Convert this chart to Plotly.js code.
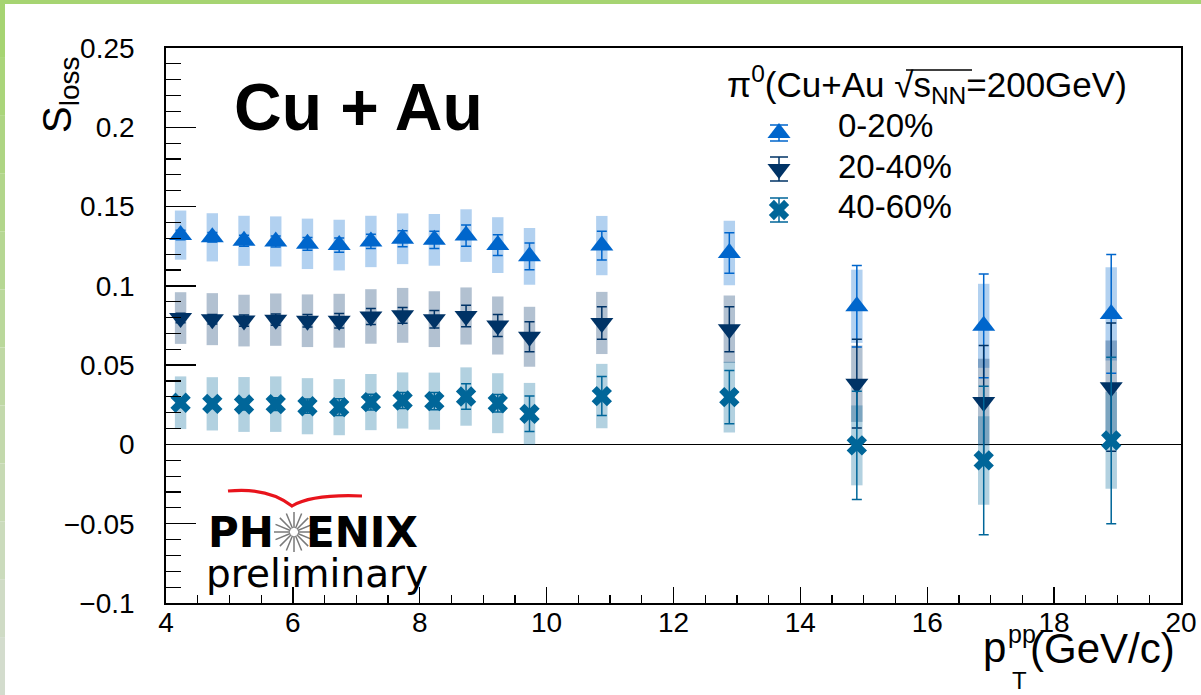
<!DOCTYPE html>
<html>
<head>
<meta charset="utf-8">
<script src="https://cdn.plot.ly/plotly-3.0.1.min.js"></script>
<style>
  html, body { margin: 0; padding: 0; background: #fff; }
  #chart { width: 1201px; height: 695px; }
</style>
</head>
<body>
<div id="chart"></div>
<script>
// pT bin positions (GeV/c)
const ptBins = [4.23, 4.73, 5.23, 5.73, 6.23, 6.73, 7.23, 7.73, 8.23, 8.73, 9.23, 9.73, 10.87, 12.88, 14.89, 16.89, 18.9];

// centrality classes
const centrality = ['0-20%', '20-40%', '40-60%'];

// S_loss, 0-20%
const sloss0020 = [0.132, 0.1306, 0.1284, 0.128, 0.1265, 0.1257, 0.128, 0.1297, 0.129, 0.1317, 0.1257, 0.1186, 0.1254, 0.1207, 0.0871, 0.0748, 0.0823];
const stat0020  = [0.003, 0.003, 0.0035, 0.0035, 0.004, 0.0045, 0.0045, 0.005, 0.0055, 0.0067, 0.0065, 0.0085, 0.0091, 0.0128, 0.0257, 0.0327, 0.0374];
const sys0020   = [0.0155, 0.0152, 0.0158, 0.0158, 0.0159, 0.016, 0.0162, 0.016, 0.0163, 0.0166, 0.0176, 0.0179, 0.0187, 0.0203, 0.0231, 0.0265, 0.0294];

// S_loss, 20-40%
const sloss2040 = [0.0797, 0.079, 0.0781, 0.0787, 0.078, 0.078, 0.0807, 0.0814, 0.079, 0.081, 0.075, 0.0679, 0.0766, 0.0726, 0.0383, 0.0267, 0.0361];
const stat2040  = [0.003, 0.003, 0.0035, 0.0035, 0.004, 0.0045, 0.005, 0.005, 0.0055, 0.0068, 0.007, 0.0095, 0.0103, 0.0142, 0.028, 0.0357, 0.0404];
const sys2040   = [0.0163, 0.0164, 0.0163, 0.0165, 0.0166, 0.017, 0.0172, 0.0173, 0.0176, 0.018, 0.0183, 0.0189, 0.0196, 0.0213, 0.0241, 0.0273, 0.0294];

// S_loss, 40-60%
const sloss4060 = [0.0263, 0.0256, 0.0252, 0.0254, 0.0241, 0.0235, 0.0267, 0.0277, 0.0273, 0.0302, 0.026, 0.0193, 0.0305, 0.0298, -0.0006, -0.0101, 0.0025];
const stat4060  = [0.003, 0.003, 0.0035, 0.004, 0.0045, 0.0053, 0.005, 0.005, 0.0055, 0.008, 0.0055, 0.0112, 0.0123, 0.0168, 0.0342, 0.0468, 0.0525];
const sys4060   = [0.0166, 0.0168, 0.0173, 0.0175, 0.0177, 0.0177, 0.0177, 0.0177, 0.018, 0.0184, 0.0189, 0.0195, 0.0203, 0.0223, 0.0252, 0.0279, 0.0305];

// styling per centrality class
const seriesColors  = ['#0066cc', '#003366', '#006699'];
const seriesSymbols = ['triangle-up', 'triangle-down', 'x'];
const seriesSizes   = [20, 20, 18];

const values = [sloss0020, sloss2040, sloss4060];
const stats  = [stat0020, stat2040, stat4060];
const syss   = [sys0020, sys2040, sys4060];

// frame geometry in pixels
const W = 1201, H = 695, L = 166, R = 1181, T = 48, B = 603;
const fx = p => (p - L) / (R - L);
const fy = p => (B - p) / (B - T);

const traces = [];

// systematic uncertainty boxes
values.forEach((vals, i) => {
  traces.push({
    type: 'bar',
    x: ptBins,
    y: syss[i].map(s => 2 * s),
    base: vals.map((v, k) => v - syss[i][k]),
    width: 0.18,
    marker: { color: seriesColors[i], opacity: 0.3, line: { width: 0 } },
    hoverinfo: 'skip',
    showlegend: false
  });
});

// points with statistical errors
values.forEach((vals, i) => {
  traces.push({
    type: 'scatter',
    mode: 'markers',
    x: ptBins,
    y: vals,
    name: centrality[i],
    error_y: { type: 'data', array: stats[i], visible: true, color: seriesColors[i], thickness: 1.5, width: 5 },
    marker: { symbol: seriesSymbols[i], size: seriesSizes[i], color: seriesColors[i], line: { width: 0 } },
    showlegend: false
  });
});

// legend symbols (drawn on a unit overlay axis)
const legRowsPx = [133, 169, 210];
const legErrPx = [8, 12, 12];
values.forEach((vals, i) => {
  traces.push({
    type: 'scatter',
    mode: 'markers',
    xaxis: 'x2', yaxis: 'y2',
    x: [fx(779)],
    y: [fy(legRowsPx[i])],
    error_y: { type: 'constant', value: legErrPx[i] / (B - T), visible: true, color: seriesColors[i], thickness: 1.5, width: 9 },
    marker: { symbol: seriesSymbols[i], size: seriesSizes[i], color: seriesColors[i], line: { width: 0 } },
    showlegend: false,
    hoverinfo: 'skip'
  });
});

const SANS = 'Liberation Sans, Arial, Helvetica, sans-serif';
const DJV = 'DejaVu Sans, Verdana, sans-serif';

function note(text, xpx, ypx, size, opts) {
  return Object.assign({
    text: text, xref: 'paper', yref: 'paper', x: fx(xpx), y: fy(ypx),
    xanchor: 'left', yanchor: 'middle', showarrow: false,
    font: { family: SANS, size: size, color: '#000' }
  }, opts || {});
}

const annotations = [
  note('<b>Cu + Au</b>', 232, 107, 66),
  note('S<sub>loss</sub>', 60, 95, 40, { xanchor: 'center', textangle: -90 }),
  note('π<sup>0</sup>(Cu+Au √s<sub>NN</sub>=200GeV)', 725, 84.5, 35),
  note(centrality[0], 836, 125.6, 33),
  note(centrality[1], 836, 166.6, 33),
  note(centrality[2], 836, 206.6, 33),
  // x-axis title pieces
  note('p', 981, 647, 42),
  note('pp', 1006, 634, 25),
  note('T', 1010, 681, 24),
  note('(GeV/c)', 1028, 648, 42),
  // experiment logo
  note('<b>PH</b>', 206, 532, 42, { font: { family: DJV, size: 42, color: '#000' } }),
  note('<b>ENIX</b>', 304, 532, 42, { font: { family: DJV, size: 42, color: '#000' } }),
  note('preliminary', 204, 573, 39, { font: { family: DJV, size: 39, color: '#000' } })
];

// starburst in place of the "O"
const cx = 294, cy = 532;
let star = '';
for (let k = 0; k < 16; k++) {
  const a = k * Math.PI / 8;
  const x0 = cx + 4 * Math.cos(a), y0 = cy + 4 * Math.sin(a);
  const x1 = cx + 20 * Math.cos(a), y1 = cy + 20 * Math.sin(a);
  star += 'M' + fx(x0) + ',' + fy(y0) + 'L' + fx(x1) + ',' + fy(y1);
}

function pathPx(cmds) {
  // cmds: array of [letter, x, y, ...] in pixels
  return cmds.map(c => c[0] + c.slice(1).map((v, j) => (j % 2 === 0 ? fx(v) : fy(v))).join(',')).join('');
}

const shapes = [
  // page border
  { type: 'rect', xref: 'paper', yref: 'paper', x0: fx(0), x1: fx(W), y0: fy(0), y1: fy(4), fillcolor: '#a6d472', line: { width: 0 } },
  { type: 'path', xref: 'paper', yref: 'paper', path: star, line: { color: '#7a7a7a', width: 1.5 } },
  { type: 'path', xref: 'paper', yref: 'paper',
    path: pathPx([['M', 228, 491], ['Q', 268, 487, 292, 506], ['Q', 312, 494, 362, 496]]),
    line: { color: '#e8141c', width: 3.2 } },
  // overline of the square root
  { type: 'line', xref: 'paper', yref: 'paper', x0: fx(906), x1: fx(972), y0: fy(70), y1: fy(70), line: { color: '#000', width: 1.5 } }
];

// left border with a soft vertical fade
const fadeTop = [166, 212, 114], fadeBot = [211, 220, 205];
const nSeg = 12;
for (let s = 0; s < nSeg; s++) {
  const t = s / (nSeg - 1);
  const c = fadeTop.map((v, j) => Math.round(v + (fadeBot[j] - v) * t));
  shapes.push({ type: 'rect', xref: 'paper', yref: 'paper',
    x0: fx(0), x1: fx(5), y0: fy(H * s / nSeg), y1: fy(H * (s + 1) / nSeg),
    fillcolor: 'rgb(' + c.join(',') + ')', line: { width: 0 } });
}

const layout = {
  width: W, height: H,
  margin: { l: L, r: W - R, t: T, b: H - B, pad: 0 },
  paper_bgcolor: '#fff', plot_bgcolor: '#fff',
  font: { family: SANS, color: '#000' },
  showlegend: false,
  barmode: 'overlay',
  xaxis: {
    range: [4, 20], tickmode: 'linear', tick0: 4, dtick: 2,
    ticks: 'inside', ticklen: 16, tickwidth: 1.3, tickcolor: '#000',
    minor: { ticks: 'inside', dtick: 0.5, tick0: 4, ticklen: 8, tickwidth: 1.2, tickcolor: '#000' },
    showline: true, linecolor: '#000', linewidth: 1.8, mirror: true,
    showgrid: false, zeroline: false,
    tickfont: { family: SANS, size: 28, color: '#000' },
    ticklabelstandoff: -6
  },
  yaxis: {
    range: [-0.1, 0.25], tickmode: 'linear', tick0: 0, dtick: 0.05,
    ticks: 'inside', ticklen: 30, tickwidth: 1.3, tickcolor: '#000',
    minor: { ticks: 'inside', dtick: 0.01, tick0: 0, ticklen: 15, tickwidth: 1.2, tickcolor: '#000' },
    showline: true, linecolor: '#000', linewidth: 1.8, mirror: true,
    showgrid: false,
    zeroline: true, zerolinecolor: '#000', zerolinewidth: 1.6,
    tickfont: { family: SANS, size: 28, color: '#000' },
    ticklabelstandoff: 24
  },
  xaxis2: { overlaying: 'x', anchor: 'y2', range: [0, 1], visible: false, fixedrange: true },
  yaxis2: { overlaying: 'y', anchor: 'x2', range: [0, 1], visible: false, fixedrange: true },
  annotations: annotations,
  shapes: shapes
};

Plotly.newPlot('chart', traces, layout, { staticPlot: true, displayModeBar: false });
</script>
</body>
</html>
